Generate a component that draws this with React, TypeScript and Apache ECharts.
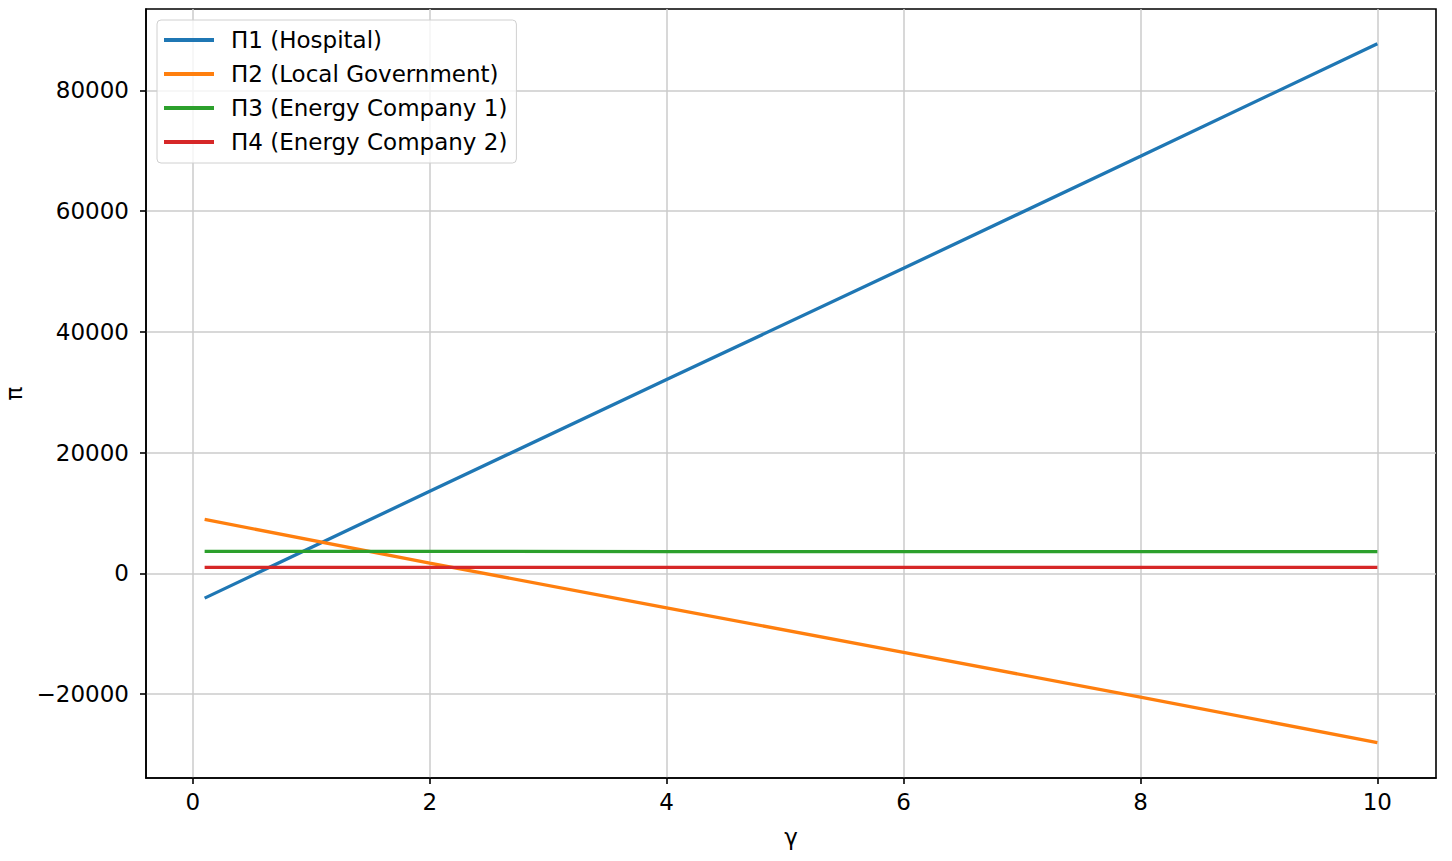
import React, { useEffect, useRef } from "react";
import * as echarts from "echarts";

const gammaValues = [0.1, 2, 4, 6, 8, 10];
const hospital = [-4100, 13600, 32100, 50550, 69100, 87750];
const localGov = [8950, 1700, -5700, -13100, -20500, -28050];
const energy1 = [3650, 3640, 3620, 3610, 3600, 3590];
const energy2 = [1000, 1000, 1000, 1000, 1000, 1000];
const seriesNames = [
  "Π1 (Hospital)",
  "Π2 (Local Government)",
  "Π3 (Energy Company 1)",
  "Π4 (Energy Company 2)",
];
const colors = ["#1f77b4", "#ff7f0e", "#2ca02c", "#d62728"];
const xTicks = [0, 2, 4, 6, 8, 10];
const yTicks = [-20000, 0, 20000, 40000, 60000, 80000];

const FONT = "DejaVu Sans";
const FS = 23;

export default function App() {
  const ref = useRef<HTMLDivElement>(null);
  useEffect(() => {
    document.body.style.margin = "0";
    const chart = echarts.init(ref.current!, null, { renderer: "svg" });
    const allSeries = [hospital, localGov, energy1, energy2];
    chart.setOption({
      animation: false,
      backgroundColor: "#ffffff",
      textStyle: { fontFamily: FONT },
      grid: {
        left: 146,
        top: 9,
        width: 1290,
        height: 769,
        show: true,
        borderColor: "#000",
        borderWidth: 1.6,
        containLabel: false,
        outerBoundsMode: "none",
      },
      legend: {
        orient: "vertical",
        left: 157,
        top: 20,
        data: seriesNames,
        icon: "rect",
        itemWidth: 50,
        itemHeight: 4,
        itemGap: 8,
        itemTextGap: 17,
        padding: [7, 9, 8, 7],
        backgroundColor: "rgba(255,255,255,0.8)",
        borderColor: "#d0d0d0",
        borderWidth: 1,
        borderRadius: 4,
        textStyle: {
          fontFamily: FONT,
          fontSize: FS,
          color: "#000",
          lineHeight: 26,
          padding: [0, 0, 0, 12],
        },
      },
      xAxis: {
        type: "value",
        min: -0.395,
        max: 10.495,
        name: "γ",
        nameLocation: "middle",
        nameGap: 47,
        nameTextStyle: { fontFamily: FONT, fontSize: FS, color: "#000" },
        axisLine: { show: true, onZero: false, lineStyle: { color: "#000", width: 1.6 } },
        axisTick: {
          show: true,
          inside: false,
          length: 6,
          customValues: xTicks,
          lineStyle: { color: "#000", width: 1.6 },
        },
        axisLabel: {
          customValues: xTicks,
          margin: 12,
          fontFamily: FONT,
          fontSize: FS,
          color: "#000",
        },
        splitLine: { show: true, lineStyle: { color: "#cbcbcb", width: 1.5 } },
      },
      yAxis: {
        type: "value",
        min: -33900,
        max: 93500,
        name: "π",
        nameLocation: "middle",
        nameGap: 120,
        nameRotate: 90,
        nameTextStyle: { fontFamily: FONT, fontSize: FS, color: "#000" },
        axisLine: { show: true, onZero: false, lineStyle: { color: "#000", width: 1.6 } },
        axisTick: {
          show: true,
          inside: false,
          length: 6,
          customValues: yTicks,
          lineStyle: { color: "#000", width: 1.6 },
        },
        axisLabel: {
          customValues: yTicks,
          margin: 17,
          fontFamily: FONT,
          fontSize: FS,
          color: "#000",
          formatter: (v: number) => (v < 0 ? "\u2212" + Math.abs(v) : String(v)),
        },
        splitLine: { show: true, lineStyle: { color: "#cbcbcb", width: 1.5 } },
      },
      series: allSeries.map((vals, i) => ({
        name: seriesNames[i],
        type: "line",
        data: gammaValues.map((g, j) => [g, vals[j]]),
        showSymbol: false,
        symbol: "none",
        color: colors[i],
        lineStyle: { color: colors[i], width: 3.3 },
        itemStyle: { color: colors[i] },
      })),
    });
    return () => chart.dispose();
  }, []);
  return (
    <div
      ref={ref}
      style={{ position: "fixed", left: 0, top: 0, width: 1452, height: 861 }}
    />
  );
}
